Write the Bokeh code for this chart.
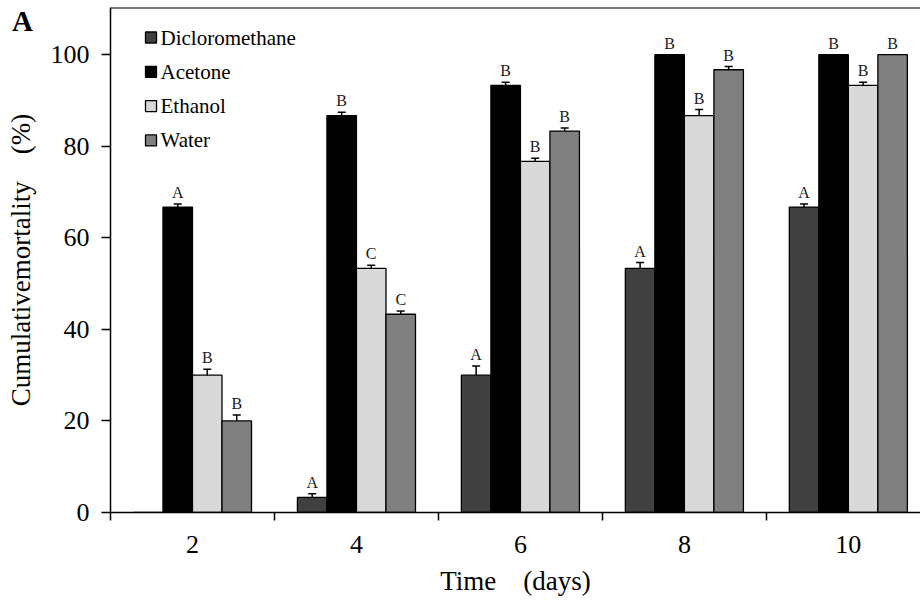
from bokeh.plotting import figure
from bokeh.models import (ColumnDataSource, Whisker, TeeHead, FixedTicker, BoxAnnotation,
                          Span, Range1d, Div)
from bokeh.transform import dodge
from bokeh.core.properties import value
from bokeh.embed import file_html
from bokeh.resources import INLINE

# ---------------- data ----------------
days = [2, 4, 6, 8, 10]
series = ["Dicloromethane", "Acetone", "Ethanol", "Water"]

dcm = [0.0, 3.3, 30.0, 53.3, 66.7]
dcm_err = [0.0, 0.8, 2.0, 1.3, 0.7]
dcm_sig = ["", "A", "A", "A", "A"]

ace = [66.7, 86.7, 93.3, 100.0, 100.0]
ace_err = [0.7, 0.7, 0.7, 0.0, 0.0]
ace_sig = ["A", "B", "B", "B", "B"]

eth = [30.0, 53.3, 76.7, 86.7, 93.3]
eth_err = [1.3, 0.7, 0.7, 1.3, 0.7]
eth_sig = ["B", "C", "B", "B", "B"]

wat = [20.0, 43.3, 83.3, 96.7, 100.0]
wat_err = [1.3, 0.7, 0.7, 0.7, 0.0]
wat_sig = ["B", "C", "B", "B", "B"]

y_ticks = [0, 20, 40, 60, 80, 100]
group_edges = [1, 3, 5, 7, 9]

colors = ["#404040", "#000000", "#d9d9d9", "#808080"]
values_all = [dcm, ace, eth, wat]
errs_all = [dcm_err, ace_err, eth_err, wat_err]
sigs_all = [dcm_sig, ace_sig, eth_sig, wat_sig]

FONT = "Liberation Serif"
bar_w = 0.36
offsets = [-1.5 * bar_w, -0.5 * bar_w, 0.5 * bar_w, 1.5 * bar_w]

X0, X1 = 1, 10.88
Y0, Y1 = 0, 110.3
FRAME_W = 920 - 110
FRAME_H = 603 - 7 - 91

p = figure(width=920, height=603, output_backend="svg", toolbar_location=None,
           x_range=Range1d(X0, X1), y_range=Range1d(Y0, Y1),
           min_border_left=110, min_border_right=0, min_border_top=7,
           min_border_bottom=91)
p.outline_line_color = None
p.xgrid.grid_line_color = None
p.ygrid.grid_line_color = None
p.background_fill_color = "white"
p.border_fill_color = "white"

leg_x, leg_y = [], []
for k, (name, vals, errs, sigs, col, off) in enumerate(
        zip(series, values_all, errs_all, sigs_all, colors, offsets)):
    src = ColumnDataSource(dict(day=days, val=vals, top=[v + e for v, e in zip(vals, errs)],
                                sig=sigs))
    p.vbar(x=dodge("day", off), top="val", width=bar_w, bottom=0,
           fill_color=col, line_color="black", line_width=1.3, source=src)

    ed = [d for d, e in zip(days, errs) if e > 0]
    ev = [v for v, e in zip(vals, errs) if e > 0]
    ee = [e for e in errs if e > 0]
    esrc = ColumnDataSource(dict(x=[d + off for d in ed],
                                 up=[v + e for v, e in zip(ev, ee)],
                                 lo=[v - e for v, e in zip(ev, ee)]))
    p.add_layout(Whisker(source=esrc, base="x", upper="up", lower="lo", line_width=1.5,
                         line_color="black",
                         upper_head=TeeHead(size=8, line_width=1.5, line_color="black"),
                         lower_head=TeeHead(size=8, line_width=1.5, line_color="black")))

    p.text(x=dodge("day", off), y="top", text="sig", source=src,
           text_font=value(FONT), text_font_size="16px", text_color="#1a1a1a",
           text_align="center", text_baseline="bottom", y_offset=-3)

    # legend swatch (screen units, relative to the plot frame)
    cy = FRAME_H - 30 - k * 34.3
    p.add_layout(BoxAnnotation(left=35, right=46, bottom=cy - 5.5, top=cy + 5.5,
                               left_units="screen", right_units="screen",
                               bottom_units="screen", top_units="screen",
                               fill_color=col, fill_alpha=1.0,
                               line_color="black", line_width=1.3, line_alpha=1.0))
    leg_x.append(X0 + 50 * (X1 - X0) / FRAME_W)
    leg_y.append(Y0 + cy * (Y1 - Y0) / FRAME_H)

# legend labels
p.text(x=leg_x, y=leg_y, text=series, text_font=value(FONT), text_font_size="21px",
       text_color="black", text_align="left", text_baseline="middle")

# top frame line
p.add_layout(Span(location=Y1, dimension="width", line_color="black", line_width=2))

# axes
p.xaxis.ticker = FixedTicker(ticks=days, minor_ticks=group_edges)
p.xaxis.major_tick_out = 0
p.xaxis.major_tick_in = 0
p.xaxis.minor_tick_out = 8
p.xaxis.minor_tick_in = 0
p.xaxis.minor_tick_line_color = "black"
p.xaxis.minor_tick_line_width = 1.5
p.xaxis.major_label_standoff = 15
p.xaxis.axis_label = "Time\u2003(days)"
p.xaxis.axis_label_standoff = 10

p.yaxis.ticker = FixedTicker(ticks=y_ticks)
p.yaxis.minor_tick_line_color = None
p.yaxis.major_tick_out = 9
p.yaxis.major_tick_in = 0
p.yaxis.major_label_standoff = 12
p.yaxis.axis_label = "Cumulativemortality\u2003(%)"
p.yaxis.axis_label_standoff = 12

for ax in (p.xaxis, p.yaxis):
    ax.axis_line_color = "black"
    ax.axis_line_width = 1.5
    ax.major_tick_line_color = "black"
    ax.major_tick_line_width = 1.5
    ax.major_label_text_font = FONT
    ax.major_label_text_font_size = "26px"
    ax.major_label_text_color = "black"
    ax.axis_label_text_font = FONT
    ax.axis_label_text_font_size = "27px"
    ax.axis_label_text_font_style = "normal"
    ax.axis_label_text_color = "black"

# panel letter, overlaid in the top-left corner
try:
    panel_letter = Div(text="A", styles={
        "position": "absolute", "left": "12px", "top": "7px",
        "font-family": "'Liberation Serif', serif", "font-weight": "bold",
        "font-size": "29px", "line-height": "1", "color": "black", "z-index": "10"})
    p.elements = [panel_letter]
except Exception:
    pass

open("out.html", "w").write(file_html(p, INLINE))
